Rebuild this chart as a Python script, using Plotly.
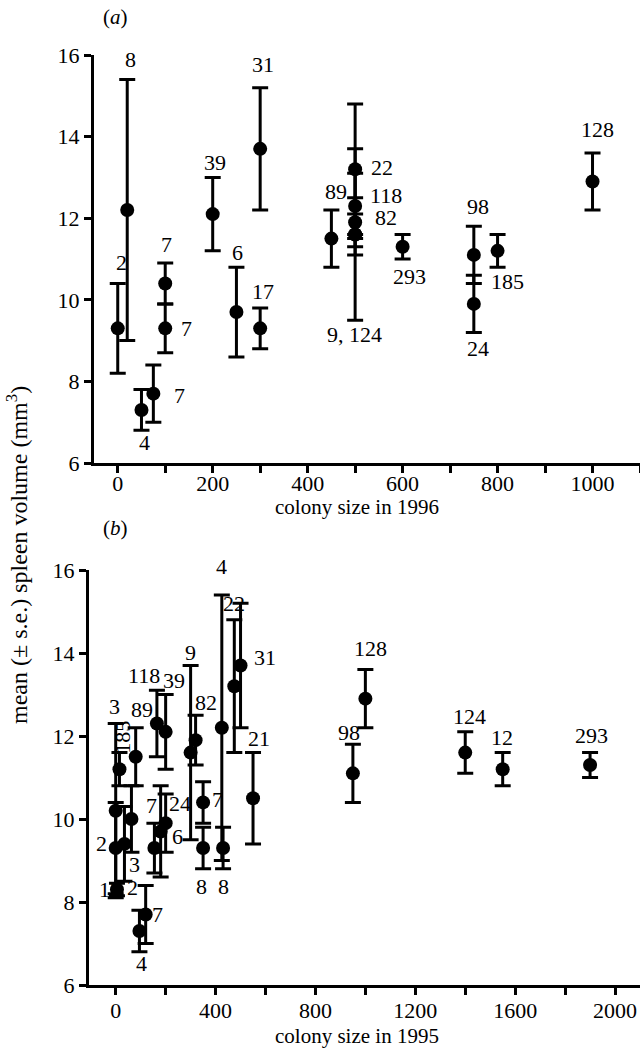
import plotly.graph_objects as go

# ---------------- data: panel (a), colony size in 1996 ----------------
A_SIZE = [0, 20, 50, 75, 100, 100, 200, 250, 300, 300, 450, 500, 500, 500, 500, 500, 600, 750, 750, 800, 1000]
A_MEAN = [9.3, 12.2, 7.3, 7.7, 10.4, 9.3, 12.1, 9.7, 13.7, 9.3, 11.5, 13.2, 12.3, 11.9, 11.6, 11.6, 11.3, 11.1, 9.9, 11.2, 12.9]
A_SE = [1.1, 3.2, 0.5, 0.7, 0.5, 0.6, 0.9, 1.1, 1.5, 0.5, 0.7, 1.6, 0.8, 0.6, 2.1, 0.5, 0.3, 0.7, 0.7, 0.4, 0.7]
A_LABEL = ["2", "8", "4", "7", "7", "7", "39", "6", "31", "17", "89", "22", "118", "82", "", "9, 124",
           "293", "98", "24", "185", "128"]

# ---------------- data: panel (b), colony size in 1995 ----------------
B_SIZE = [0, 15, 80, 165, 200, 300, 320, 425, 475, 500, 550, 950, 1000, 1400, 1550, 1900,
          350, 350, 430, 155, 200, 180, 0, 35, 63, 5, 120, 95]
B_MEAN = [10.2, 11.2, 11.5, 12.3, 12.1, 11.6, 11.9, 12.2, 13.2, 13.7, 10.5, 11.1, 12.9, 11.6, 11.2, 11.3,
          10.4, 9.3, 9.3, 9.3, 9.9, 9.7, 9.3, 9.4, 10.0, 8.3, 7.7, 7.3]
B_SE = [2.1, 0.4, 0.7, 0.8, 0.9, 2.1, 0.6, 3.2, 1.6, 1.5, 1.1, 0.7, 0.7, 0.5, 0.4, 0.3,
        0.5, 0.5, 0.5, 0.6, 0.7, 1.1, 1.1, 0.9, 0.8, 0.15, 0.7, 0.5]
B_LABEL = ["3", "185", "89", "118", "39", "9", "82", "4", "22", "31", "21", "98", "128", "124", "12", "293",
           "7", "8", "8", "7", "24", "6", "2", "3", "2", "12", "7", "4"]

# ---------------- label placement (pixel offsets from each point) ----------------
A_OFFSET = [(4, 66), (3, 151), (3, -33), (26, -2), (1, 39), (21, 0), (2, 52), (1, 60), (3, 84), (3, 37),
            (5, 47), (27, 2), (31, 10), (31, 5), (0, 0), (-1, -100), (7, -30), (4, 48), (4, -45), (10, -31),
            (5, 52)]
B_OFFSET = [(-1, 104), (3, 32), (6, 47), (-13, 48), (8, 51), (0, 100), (10, 38), (0, 161), (0, 83), (24, 8),
            (6, 60), (-4, 41), (5, 50), (4, 36), (-1, 32), (1, 30),
            (14, 3), (-2, -38), (0, -38), (-3, 43), (14, 20), (17, -5), (-14, 5), (10, -21), (1, -68),
            (-7, 0), (12, 0), (2, -32)]
B_ANGLE = {1: -90}

FONT = "Liberation Serif"
FS = 22
FS_TITLE = 21

fig = go.Figure()

err_style = dict(type="data", symmetric=True, thickness=3, width=8, color="black")
marker_style = dict(color="black", size=14)

fig.add_trace(go.Scatter(x=A_SIZE, y=A_MEAN, mode="markers", marker=marker_style,
                         error_y=dict(array=A_SE, **err_style), xaxis="x", yaxis="y",
                         showlegend=False, hoverinfo="skip"))
fig.add_trace(go.Scatter(x=B_SIZE, y=B_MEAN, mode="markers", marker=marker_style,
                         error_y=dict(array=B_SE, **err_style), xaxis="x2", yaxis="y2",
                         showlegend=False, hoverinfo="skip"))

annotations = []
for xv, yv, lab, (dx, dy) in zip(A_SIZE, A_MEAN, A_LABEL, A_OFFSET):
    if lab:
        annotations.append(dict(x=xv, y=yv, xref="x", yref="y", text=lab, showarrow=False,
                                xanchor="center", yanchor="middle",
                                xshift=dx, yshift=dy, font=dict(family=FONT, size=FS, color="black")))
for i, (xv, yv, lab, (dx, dy)) in enumerate(zip(B_SIZE, B_MEAN, B_LABEL, B_OFFSET)):
    annotations.append(dict(x=xv, y=yv, xref="x2", yref="y2", text=lab, showarrow=False,
                            xanchor="center", yanchor="middle",
                            xshift=dx, yshift=dy, textangle=B_ANGLE.get(i, 0),
                            font=dict(family=FONT, size=FS, color="black")))

txt = dict(family=FONT, size=FS_TITLE, color="black")
paper_txt = dict(xref="paper", yref="paper", showarrow=False, xanchor="center", yanchor="middle")
annotations += [
    dict(x=115 / 640, y=1 - 17 / 1055, text="(<i>a</i>)", font=txt, **paper_txt),
    dict(x=115 / 640, y=1 - 528 / 1055, text="(<i>b</i>)", font=txt, **paper_txt),
    dict(x=357 / 640, y=1 - 507 / 1055, text="colony size in 1996", font=txt, **paper_txt),
    dict(x=357 / 640, y=1 - 1036 / 1055, text="colony size in 1995", font=txt, **paper_txt),
    dict(x=17 / 640, y=1 - 555 / 1055, text="mean (± s.e.) spleen volume (mm<sup>3</sup>)",
         textangle=-90, font=dict(family=FONT, size=24, color="black"), **paper_txt),
]

axis_common = dict(showline=True, linewidth=3, linecolor="black", ticks="outside", ticklen=7, tickwidth=3,
                   tickcolor="black", showgrid=False, zeroline=False, mirror=False,
                   tickfont=dict(family=FONT, size=FS, color="black"), automargin=False,
                   ticklabeloverflow="allow")
minor_common = dict(ticks="outside", ticklen=7, tickwidth=3, tickcolor="black", tick0=0)

fig.update_layout(
    width=640, height=1055,
    margin=dict(l=0, r=0, t=0, b=0),
    paper_bgcolor="white", plot_bgcolor="white",
    xaxis=dict(domain=[94 / 640, 1], range=[-50, 1100], tickmode="linear", tick0=0, dtick=200,
               minor=dict(dtick=100, **minor_common), ticklabelstandoff=-8,
               anchor="y", **axis_common),
    yaxis=dict(domain=[1 - 463 / 1055, 1 - 55 / 1055], range=[6, 16], tickmode="linear", tick0=6, dtick=2,
               anchor="x", **axis_common),
    xaxis2=dict(domain=[89 / 640, 1], range=[-107, 2100], tickmode="linear", tick0=0, dtick=400,
                minor=dict(dtick=200, **minor_common), ticklabelstandoff=-3,
                anchor="y2", **axis_common),
    yaxis2=dict(domain=[1 - 985 / 1055, 1 - 570 / 1055], range=[6, 16], tickmode="linear", tick0=6, dtick=2,
                anchor="x2", **axis_common),
    annotations=annotations,
)

fig.write_html("out.html", config={"displayModeBar": False},
               post_script="document.body.style.margin='0px';document.body.style.overflow='hidden';")
